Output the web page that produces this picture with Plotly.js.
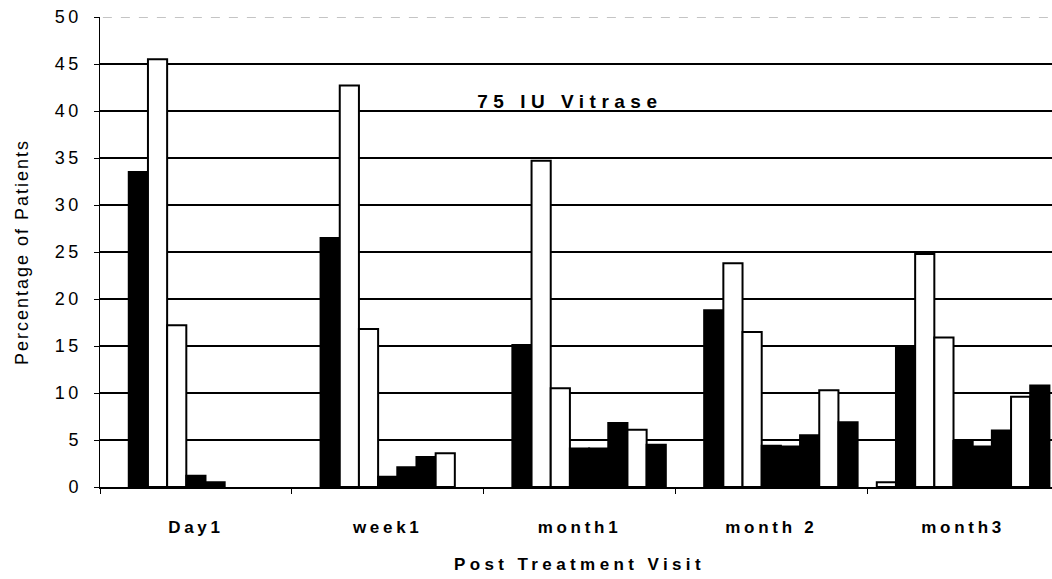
<!DOCTYPE html>
<html><head><meta charset="utf-8">
<script src="https://cdn.plot.ly/plotly-3.0.1.min.js"></script>
<style>
html,body{margin:0;padding:0;overflow:hidden;background:#fff;}
#chart{width:1060px;height:579px;}
#chart .xtick text{letter-spacing:3.7px;}
#chart .ytick text{letter-spacing:3.5px;}
#chart .g-xtitle text{letter-spacing:4.4px;}
#chart .g-ytitle text{letter-spacing:2px;}
#chart .annotation-text{letter-spacing:5.5px;}
</style></head><body><div id="chart"></div>
<script>
// Categories (post treatment visits)
const visits = ["Day1", "week1", "month1", "month 2", "month3"];
// Series values (percentage of patients)
const series0 = [0, 0, 0, 0, 0.5];
const series1 = [33.5, 26.5, 15.1, 18.8, 14.9];
const series2 = [45.5, 42.7, 34.7, 23.8, 24.8];
const series3 = [17.2, 16.8, 10.5, 16.5, 15.9];
const series4 = [1.2, 1.1, 4.1, 4.4, 4.9];
const series5 = [0.5, 2.1, 4.1, 4.3, 4.3];
const series6 = [0, 3.2, 6.8, 5.5, 6.0];
const series7 = [0, 3.6, 6.1, 10.3, 9.6];
const series8 = [0, 0, 4.5, 6.9, 10.8];
const seriesNames = ["Series 1","Series 2","Series 3","Series 4","Series 5","Series 6","Series 7","Series 8","Series 9"];
const yTicks = [0, 5, 10, 15, 20, 25, 30, 35, 40, 45, 50];

const allSeries = [series0, series1, series2, series3, series4, series5, series6, series7, series8];
const fills = ['#ffffff','#000000','#ffffff','#ffffff','#000000','#000000','#000000','#ffffff','#000000'];

const traces = allSeries.map((vals, i) => ({
  type: 'bar',
  x: visits,
  y: vals,
  name: seriesNames[i],
  marker: {color: fills[i], line: {color: '#000', width: vals.map(v => v > 0 ? 2 : 0)}},
  hoverinfo: 'x+y'
}));

const layout = {
  width: 1060, height: 579,
  margin: {l: 100, r: 1, t: 17, b: 92},
  paper_bgcolor: '#fff', plot_bgcolor: '#fff',
  showlegend: false,
  barmode: 'group',
  bargap: 0.1, bargroupgap: 0,
  font: {family: 'Arial, "Liberation Sans", sans-serif', color: '#000'},
  xaxis: {
    type: 'category',
    showline: true, linecolor: '#000', linewidth: 1.5,
    ticks: 'outside', tickson: 'boundaries', ticklen: 5, tickcolor: '#000', tickwidth: 1,
    ticklabelstandoff: 24,
    tickfont: {size: 17, weight: 'bold', color: '#000'},
    showgrid: false,
    title: {text: 'Post Treatment Visit', font: {size: 17, weight: 'bold', color: '#000'}, standoff: 22}
  },
  yaxis: {
    range: [0, 50], autorange: false,
    tickvals: yTicks, ticktext: yTicks.map(String),
    showline: true, linecolor: '#000', linewidth: 1.5,
    ticks: 'outside', ticklen: 5, tickcolor: '#000', tickwidth: 1,
    ticklabelstandoff: 8,
    tickfont: {size: 18, color: '#000'},
    showgrid: true, gridcolor: '#000', gridwidth: 1.7,
    zeroline: false,
    title: {text: 'Percentage of Patients', font: {size: 18, color: '#000'}, standoff: 28}
  },
  shapes: [
    {type: 'line', xref: 'paper', yref: 'y', x0: 0.003, x1: 1, y0: 50, y1: 50, line: {color: '#ffffff', width: 3}},
    {type: 'line', xref: 'paper', yref: 'y', x0: 0.003, x1: 1, y0: 50, y1: 50, line: {color: '#8a8a8a', width: 1, dash: 'dash'}}
  ],
  annotations: [{
    text: '75 IU Vitrase', xref: 'paper', yref: 'y', x: 0.49, y: 40, yanchor: 'bottom', yshift: -3,
    showarrow: false, font: {size: 19, weight: 'bold', color: '#000'}
  }]
};

Plotly.newPlot('chart', traces, layout, {displayModeBar: false, staticPlot: true});
</script></body></html>
